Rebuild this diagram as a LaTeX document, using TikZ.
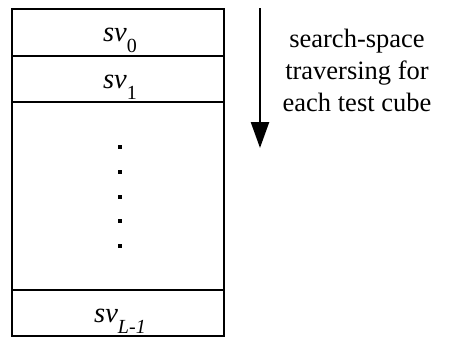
\documentclass[tikz,border=0pt]{standalone}
\usepackage{fontspec}
\setmainfont{Liberation Serif}
\usetikzlibrary{arrows.meta}
\newcommand{\svlabel}[1]{\textit{sv}\raisebox{-11pt}{\fontsize{20}{20}\selectfont #1}}
\begin{document}
\begin{tikzpicture}[x=1pt,y=-1pt,
  frame/.style={draw=black,line width=2.6pt},
  cell/.style={font=\fontsize{28.5}{32}\selectfont,inner sep=0pt,anchor=base},
  vdot/.style={fill=black,minimum size=4.2pt,inner sep=0pt},
  note/.style={font=\fontsize{26.5}{34}\selectfont,inner sep=0pt,anchor=base}]
  \useasboundingbox (0,0) rectangle (452,338);
  % register column
  \draw[frame] (12,9) rectangle (224,336);
  \draw[frame] (12,56) -- (224,56);
  \draw[frame] (12,102) -- (224,102);
  \draw[frame] (12,290) -- (224,290);
  \node[cell] (sv0) at (120,41) {\svlabel{0}};
  \node[cell] (sv1) at (120,88) {\svlabel{1}};
  \node[cell] (svL) at (120,322) {\svlabel{\textit{L-1}}};
  % vertical ellipsis
  \foreach \i/\y in {1/147,2/172,3/197,4/221,5/246}
    \node[vdot] (d\i) at (120,\y) {};
  % traversal direction
  \coordinate (atop) at (260,8);
  \coordinate (abot) at (260,148);
  \draw[line width=2.4pt,-{Triangle[length=26pt,width=18pt]}] (atop) -- (abot);
  \node[note] (lbl1) at (357,47) {search-space};
  \node[note] (lbl2) at (357,79) {traversing for};
  \node[note] (lbl3) at (357,111) {each test cube};
\end{tikzpicture}
\end{document}
